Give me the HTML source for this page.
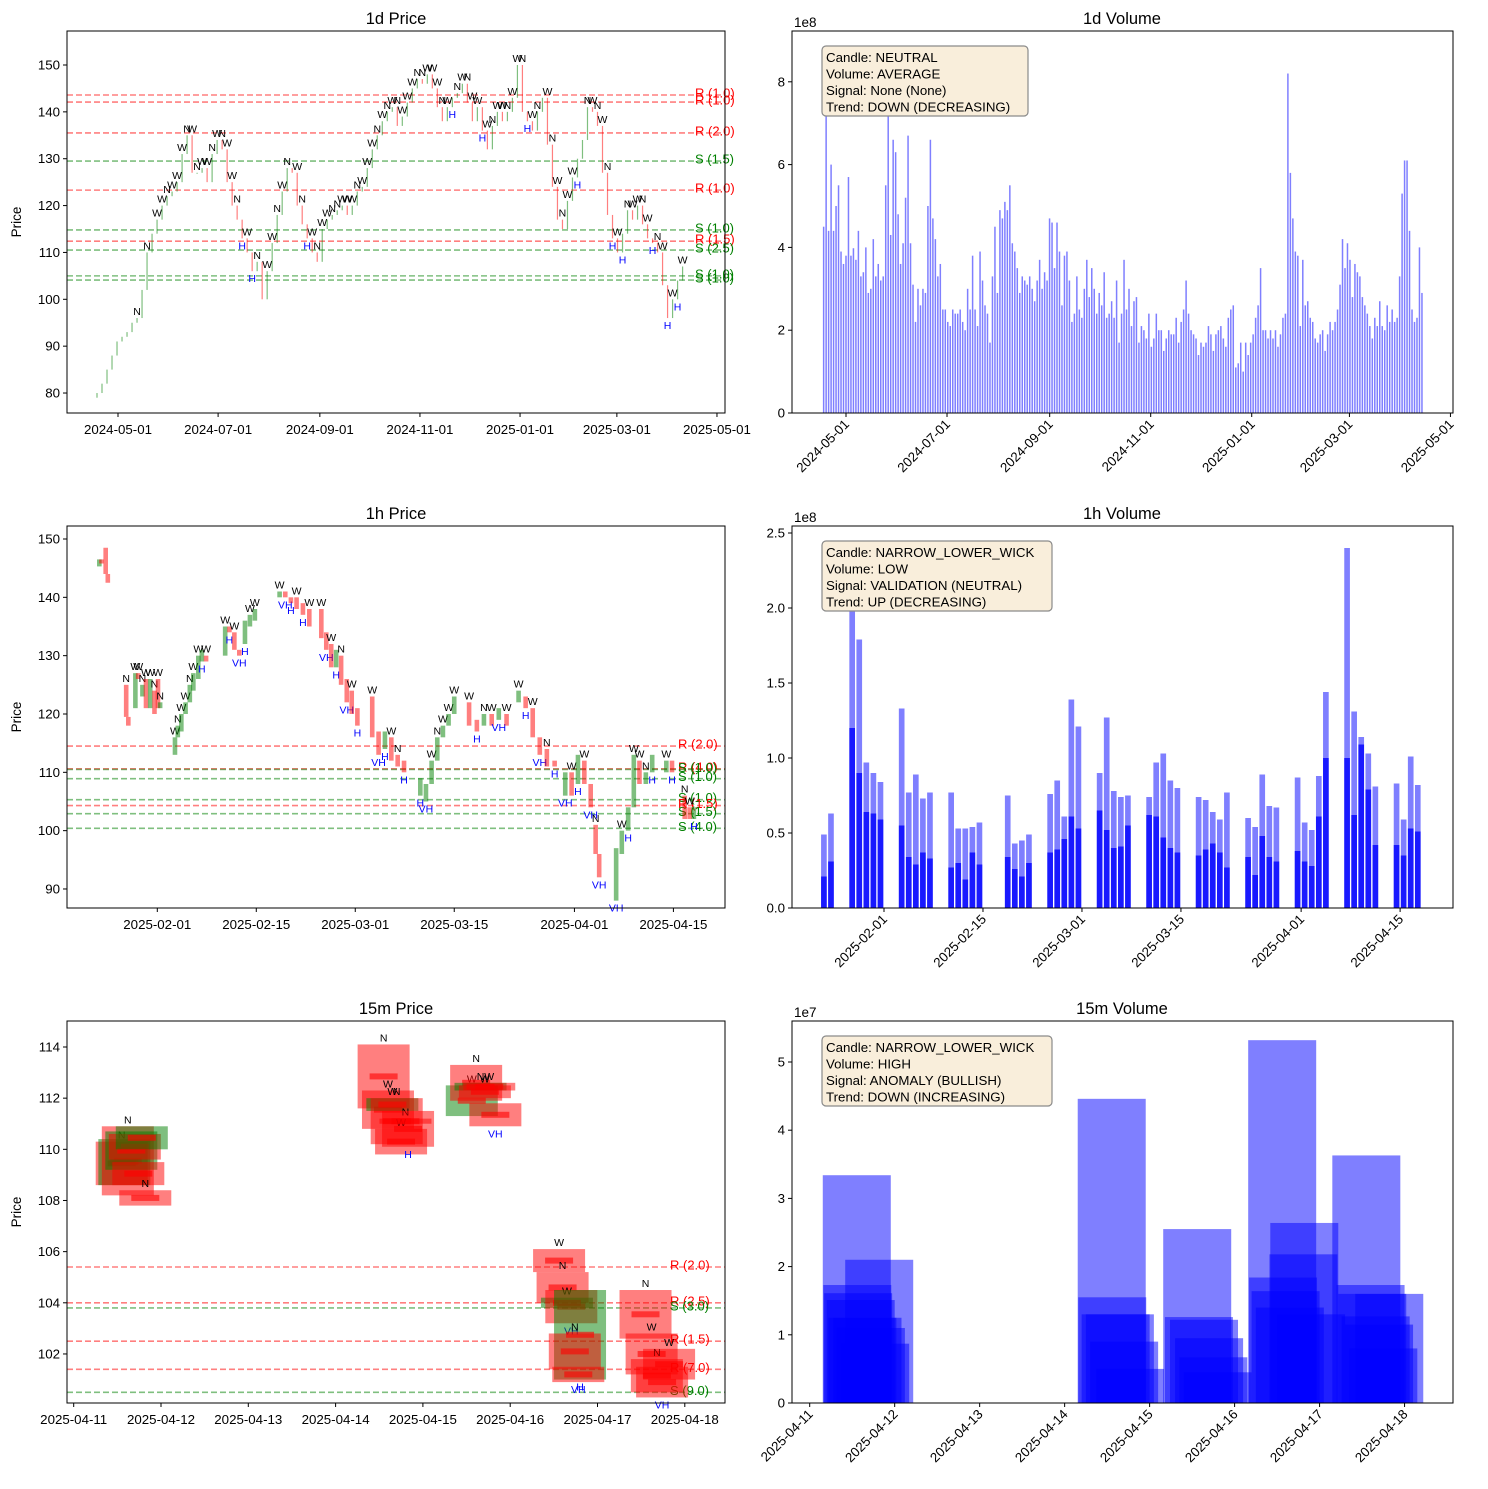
<!DOCTYPE html>
<html><head><meta charset="utf-8"><style>
html,body{margin:0;padding:0;background:#fff}
svg{display:block;font-family:"Liberation Sans",sans-serif}
</style></head><body>
<svg id="chart" xmlns="http://www.w3.org/2000/svg" width="1488" height="1489" viewBox="0 0 1488 1489">
<rect x="0" y="0" width="1488" height="1489" fill="#fff"/>
<text x="396" y="24" font-size="16.5" text-anchor="middle">1d Price</text>
<text x="1122" y="24" font-size="16.5" text-anchor="middle">1d Volume</text>
<text x="396" y="519" font-size="16.5" text-anchor="middle">1h Price</text>
<text x="1122" y="519" font-size="16.5" text-anchor="middle">1h Volume</text>
<text x="396" y="1014" font-size="16.5" text-anchor="middle">15m Price</text>
<text x="1122" y="1014" font-size="16.5" text-anchor="middle">15m Volume</text>
<text transform="translate(21,222) rotate(-90)" font-size="13.5" text-anchor="middle">Price</text>
<text transform="translate(21,717) rotate(-90)" font-size="13.5" text-anchor="middle">Price</text>
<text transform="translate(21,1212) rotate(-90)" font-size="13.5" text-anchor="middle">Price</text>
<text x="794" y="27" font-size="13.5">1e8</text>
<text x="794" y="522" font-size="13.5">1e8</text>
<text x="794" y="1017" font-size="13.5">1e7</text>
<g id="plots"></g>
<g>
<rect x="822" y="46" width="206" height="70" rx="4" fill="#f9eedb" stroke="#8a8a8a" stroke-width="1.2"/>
<text x="826" y="62" font-size="13.3">Candle: NEUTRAL</text>
<text x="826" y="78.5" font-size="13.3">Volume: AVERAGE</text>
<text x="826" y="95" font-size="13.3">Signal: None (None)</text>
<text x="826" y="111.5" font-size="13.3">Trend: DOWN (DECREASING)</text>
</g>
<g>
<rect x="822" y="541" width="230" height="70" rx="4" fill="#f9eedb" stroke="#8a8a8a" stroke-width="1.2"/>
<text x="826" y="557" font-size="13.3">Candle: NARROW_LOWER_WICK</text>
<text x="826" y="573.5" font-size="13.3">Volume: LOW</text>
<text x="826" y="590" font-size="13.3">Signal: VALIDATION (NEUTRAL)</text>
<text x="826" y="606.5" font-size="13.3">Trend: UP (DECREASING)</text>
</g>
<g>
<rect x="822" y="1036" width="230" height="70" rx="4" fill="#f9eedb" stroke="#8a8a8a" stroke-width="1.2"/>
<text x="826" y="1052" font-size="13.3">Candle: NARROW_LOWER_WICK</text>
<text x="826" y="1068.5" font-size="13.3">Volume: HIGH</text>
<text x="826" y="1085" font-size="13.3">Signal: ANOMALY (BULLISH)</text>
<text x="826" y="1101.5" font-size="13.3">Trend: DOWN (INCREASING)</text>
</g>
</svg>
<script>
// ---------- 1d price data ----------
const d1Start = -12.8;   // days from 2024-05-01
const d1Step = 3.05;
const d1Close = [80,82,85,88,91,92,93,95,96,102,110,114,117,120,122,123,125,131,135,127,127,128,125,131,134,132,125,120,117,113,110,106,108,100,106,112,118,123,128,127,120,116,113,110,108,115,117,118,119,120,118,120,123,124,128,132,135,138,140,141,137,139,142,145,147,146,148,145,141,138,141,143,144,146,142,138,141,136,132,137,140,138,140,143,150,140,138,136,140,143,133,124,117,115,121,126,130,134,141,140,137,127,118,113,110,114,119,117,120,116,113,112,110,103,96,100,104,107];
const d1Marks = "........N.N.WWNWWWNWNWWNWNWWNHWHN.WWNWN.WNHWNWWNNWWWNWWWNWNWNWWWNNWWWNWHNWNWWHWNWWNWWNHWN.WNWNWWH.NWNWNHWHNWWNWHNWHWHWNNH";
const d1LevelVals = [143.6,142.1,135.5,129.5,123.3,114.8,112.4,110.5,105.0,104.1];
const d1LevelType = ["R","R","R","S","R","S","R","S","S","S"];
const d1LevelStr = ["1.0","1.0","2.0","1.5","1.0","1.0","1.5","2.5","1.0","1.0"];
// ---------- 1d volume data (1e8) ----------
const d1VolStart = -13.5, d1VolEnd = 347.8;   // days from 2024-05-01 (first / last bar)
const d1Vol = [4.5,8.4,4.4,6.0,4.4,5.0,5.5,3.9,3.6,3.8,5.7,3.8,
3.98,3.7,4.4,3.3,3.4,4.0,2.9,3.0,4.2,3.3,3.6,
3.2,3.3,5.5,8.4,4.3,6.6,6.3,4.8,3.6,4.1,5.2,6.7,4.1,
3.1,2.2,3.0,2.6,3.0,2.9,5.0,6.6,4.7,4.2,3.3,
3.6,2.5,2.5,2.2,2.1,2.5,2.4,2.4,2.5,2.2,2.0,3.0,2.5,3.8,2.5,
2.1,3.9,3.2,2.6,2.4,1.7,3.3,4.5,2.9,4.9,4.7,5.1,4.9,5.5,4.1,3.9,
3.5,2.9,3.3,3.2,3.1,3.3,3.0,2.7,3.2,3.7,3.0,3.4,3.2,4.7,4.6,3.5,4.6,
3.9,2.6,3.8,3.9,3.2,2.2,2.4,3.3,2.5,2.3,3.0,3.7,2.8,3.5,3.0,2.4,
2.9,2.6,3.4,2.3,2.4,2.7,2.3,3.2,1.7,2.4,3.7,2.5,3.0,2.1,2.7,2.8,
1.7,2.1,2.0,1.8,2.4,1.6,1.8,2.4,2.0,2.0,1.5,1.8,2.0,1.9,1.9,2.3,1.7,
2.2,2.5,3.2,2.4,2.0,1.9,1.8,1.4,1.7,1.6,1.7,2.1,1.9,1.5,1.9,2.0,2.1,1.8,
1.6,2.3,2.5,2.6,1.1,1.2,1.7,1.0,1.7,1.4,1.7,1.9,2.3,2.6,3.5,2.0,
2.0,1.8,2.0,1.8,2.0,1.6,1.9,2.3,2.4,8.2,5.8,4.7,3.9,3.8,2.1,
3.7,2.6,2.7,2.3,2.2,1.8,1.7,1.9,2.0,1.5,1.9,2.2,2.0,2.2,2.5,3.1,4.2,3.5,
4.1,3.7,2.8,3.6,3.4,3.3,2.8,2.6,2.4,2.1,1.8,2.3,2.1,2.7,2.1,2.0,
2.6,2.2,2.5,2.2,2.3,3.3,5.3,6.1,6.1,4.4,2.5,2.2,2.3,4.0,2.9];
// ---------- 1h price data (days from 2025-02-01) ----------
const h1Time = [-8.2,-7.9,-7.3,-7.0,-4.4,-4.1,-3.1,-2.7,-2.1,-1.6,-1.0,-0.4,0.1,0.4,2.5,2.9,3.4,4.0,4.6,5.1,5.8,6.3,6.9,9.6,10.2,10.9,11.6,12.4,13.1,13.8,17.3,18.1,18.9,19.7,20.6,21.5,23.2,23.9,24.6,25.3,26.0,26.8,27.5,28.3,30.4,31.3,32.2,33.1,34.0,34.9,37.2,38.0,38.8,39.6,40.4,41.2,42.0,44.1,45.2,46.2,47.3,48.3,49.4,51.1,52.1,53.1,54.1,55.1,56.2,57.7,58.6,59.5,60.4,61.3,62.0,62.5,64.9,65.7,66.6,67.4,68.2,69.1,70.0,72,72.8,74.6,75.3,75.9];
const h1Open = [145.3,146.5,148.5,144.0,125,119.5,121,127,123,126,121,124,126,121,113,116,117,120,122,124,126,129,130,130,135,134,131,132,135,136,140,141,140,140,139,138,138,134,132,128,130,126,124,121,123,117,114,116,113,112,106,105,108,112,116,118,120,122,119,118,120,119,120,122,123,121,116,114,112,106,110,108,112,108,101,96,88,96,100,104,112,108,110,110,112,106,104,102];
const h1Close = [146.5,145.8,144.0,142.5,119.5,118,127,126,125,121,126,120,121,122,116,118,120,122,125,127,130,131,129,135,134,131,130,136,137,138,141,140,139,138,137,135,133,131,128,131,125,122,120,118,116,113,117,112,111,110,109,108,112,116,118,120,123,118,117,120,118,121,118,124,121,116,113,111,111,110,106,113,108,104,96,92,97,100,104,113,108,110,113,112,110,102,102,104];
const h1Marks = "....N.WWNWWNWNWNWWNWWHWWHWVHWWWVHWHWWVWHNVWHWVHWNHHVWNWWWWHNWVWWHWVNHVWHWVNVVWHWWNHWHNWH";
const h1LevelVals = [114.5,110.6,110.5,108.9,105.3,104.3,102.9,100.4];
const h1LevelType = ["R","R","S","S","S","R","S","S"];
const h1LevelStr = ["2.0","4.0","1.0","1.0","1.0","1.5","1.5","4.0"];
// ---------- 1h volume data (days from 2025-02-01, 1e8) ----------
const h1VolDay = [-9,-8,-5,-4,-3,-2,-1,2,3,4,5,6,9,10,11,12,13,17,18,19,20,23,24,25,26,27,30,31,32,33,34,37,38,39,40,41,44,45,46,47,48,51,52,53,54,55,58,59,60,61,62,65,66,67,68,69,72,73,74,75];
const h1VolPeak = [0.49,0.63,2.42,1.79,0.97,0.9,0.84,1.33,0.77,0.89,0.73,0.77,0.77,0.53,0.53,0.54,0.57,0.75,0.43,0.45,0.49,0.76,0.85,0.61,1.39,1.21,0.9,1.27,0.78,0.74,0.75,0.74,0.97,1.03,0.85,0.8,0.74,0.72,0.64,0.59,0.77,0.6,0.54,0.89,0.68,0.67,0.87,0.57,0.52,0.88,1.44,2.4,1.31,1.14,1.03,0.81,0.83,0.59,1.01,0.82];
const h1VolDense = [0.21,0.31,1.2,0.9,0.64,0.63,0.59,0.55,0.34,0.29,0.37,0.33,0.27,0.3,0.19,0.37,0.29,0.34,0.26,0.21,0.3,0.37,0.39,0.46,0.61,0.53,0.65,0.52,0.4,0.41,0.55,0.62,0.61,0.47,0.4,0.37,0.35,0.39,0.43,0.37,0.27,0.34,0.22,0.48,0.34,0.31,0.38,0.31,0.28,0.61,1.0,1.0,0.62,1.09,0.79,0.42,0.42,0.35,0.53,0.51];
// ---------- 15m price data (days from 2025-04-11) ----------
const m15Time = [0.55,0.58,0.62,0.66,0.70,0.74,0.78,0.82,3.55,3.60,3.65,3.70,3.75,3.80,3.83,4.56,4.61,4.66,4.71,4.76,4.83,5.56,5.60,5.65,5.70,5.80,5.74,5.78,6.55,6.62,6.68,6.74,6.82];
const m15Open = [110.3,108.6,110.9,109.2,110.6,109.5,110.0,108.4,114.1,112.3,111.5,112.0,110.8,111.2,111.5,111.3,113.3,112.3,112.5,112.6,111.8,106.1,105.2,103.8,104.5,101.0,102.8,101.5,104.5,102.8,101.8,101.5,102.2];
const m15Close = [108.6,110.4,108.2,110.7,109.6,108.6,110.9,107.8,111.6,110.8,112.0,110.2,109.8,111.0,110.1,112.5,111.9,112.6,112.0,112.3,110.9,105.2,104.0,104.2,103.2,104.5,101.4,100.9,102.6,101.2,100.5,100.3,101.0];
const m15Marks = "N.N....NNWWNWNHWNNWWVWNWVHNVNWNVW";
const m15LevelVals = [105.4,104.0,103.8,102.5,101.4,100.5];
const m15LevelType = ["R","R","S","R","R","S"];
const m15LevelStr = ["2.0","2.5","3.0","1.5","7.0","9.0"];
// ---------- 15m volume data (days from 2025-04-11, 1e7) ----------
const m15VolTime = [0.554,0.56,0.57,0.6,0.62,0.68,0.72,0.77,0.818,3.554,3.56,3.6,3.65,3.7,3.77,4.56,4.58,4.64,4.7,4.75,4.8,5.56,5.57,5.6,5.65,5.81,5.82,5.9,6.55,6.6,6.62,6.66,6.7,6.75,6.82];
const m15Vol = [3.34,1.73,1.61,1.51,1.25,1.25,1.1,0.87,2.1,4.46,1.55,1.3,1.3,0.9,0.5,2.55,1.26,1.22,0.95,0.67,0.45,5.32,1.84,1.64,1.4,2.18,2.64,1.3,3.63,1.73,1.6,1.27,1.15,0.8,1.6];

const NS = "http://www.w3.org/2000/svg";
const root = document.getElementById('plots');
function mk(tag, attrs, parent){
  const e = document.createElementNS(NS, tag);
  for (const k in attrs) e.setAttribute(k, attrs[k]);
  (parent || root).appendChild(e);
  return e;
}
const GREEN = "rgba(0,128,0,0.5)", RED = "rgba(255,0,0,0.5)", BLUE = "rgba(0,0,255,0.5)";

function frame(x0, y0, x1, y1, name){
  const f = mk('rect', {x:x0, y:y0, width:x1-x0, height:y1-y0, fill:'none', stroke:'#000', 'stroke-width':1});
  
  
}
function yTicks(vals, labels, yS, x0, name){
  vals.forEach((v, i) => {
    const y = yS(v);
    const t = mk('line', {x1:x0-4, x2:x0, y1:y, y2:y, stroke:'#000', 'stroke-width':1});
    
    
    const l = mk('text', {x:x0-7, y:y+4.5, 'font-size':13.3, 'text-anchor':'end'});
    l.textContent = labels[i];
    
    
  });
}
function xTicks(vals, labels, xS, y1, rotated, name){
  vals.forEach((v, i) => {
    const x = xS(v);
    const t = mk('line', {x1:x, x2:x, y1:y1, y2:y1+4, stroke:'#000', 'stroke-width':1});
    
    
    let l;
    if (rotated) {
      l = mk('text', {x:x+4, y:y1+12, 'font-size':13.3, 'text-anchor':'end', transform:'rotate(-45 '+(x+4)+' '+(y1+12)+')'});
    } else {
      l = mk('text', {x:x, y:y1+21, 'font-size':13.3, 'text-anchor':'middle'});
    }
    l.textContent = labels[i];
    
    
  });
}
function levels(vals, types, strs, yS, x0, x1, labelX, name){
  vals.forEach((v, i) => {
    const y = yS(v);
    const col = types[i] === 'R' ? 'rgba(255,0,0,0.5)' : 'rgba(0,128,0,0.5)';
    const ln = mk('line', {x1:x0, x2:x1, y1:y, y2:y, stroke:col, 'stroke-width':1.6, 'stroke-dasharray':'6,3'});
    
    
    const t = mk('text', {x:labelX, y:y+2.5, 'font-size':13, fill: types[i] === 'R' ? '#ff0000' : '#008000'});
    t.textContent = types[i] + ' (' + strs[i] + ')';
    
    
  });
}
function mark(ch, x, yTop, yBot, name){
  if (ch === '.') return;
  const below = (ch === 'H' || ch === 'V');
  const t = mk('text', {x:x, y: below ? yBot + 11 : yTop - 3, 'font-size':10.5, 'text-anchor':'middle', fill: below ? '#0000ff' : '#000'});
  t.textContent = ch === 'V' ? 'VH' : ch;
  
  
}

// ===== Panel 1: 1d price =====
(function(){
  const xS = d => 118 + d * 1.641;
  const yS = v => 65 + (150 - v) * 4.686;
  levels(d1LevelVals, d1LevelType, d1LevelStr, yS, 67, 725, 695, 'price-1d');
  d1Close.forEach((c, i) => {
    const o = i === 0 ? c - 1 : d1Close[i-1];
    const x = xS(d1Start + i * d1Step);
    const yT = yS(Math.max(o, c)), yB = yS(Math.min(o, c));
    const r = mk('rect', {x:x-0.6, y:yT, width:1.2, height:Math.max(1, yB-yT), fill: c >= o ? GREEN : RED});
    
    
    mark(d1Marks[i], x, yT, yB, 'price-1d');
  });
  frame(67, 31, 725, 413, 'axes-1d-price');
  yTicks([80,90,100,110,120,130,140,150], ["80","90","100","110","120","130","140","150"], yS, 67, 'y-axis-1d-price');
  xTicks([0,61,123,184,245,304,365], ["2024-05-01","2024-07-01","2024-09-01","2024-11-01","2025-01-01","2025-03-01","2025-05-01"], xS, 413, false, 'x-axis-1d-price');
})();

// ===== Panel 2: 1d volume =====
(function(){
  const xS = d => 846 + d * 1.656;
  const yS = v => 413 - v * 41.4;
  const step = (d1VolEnd - d1VolStart) / (d1Vol.length - 1);
  d1Vol.forEach((v, i) => {
    const x = xS(d1VolStart + i * step);
    const b = mk('rect', {x:x-0.75, y:yS(v), width:1.5, height:413-yS(v), fill:BLUE});
    
    
  });
  frame(792, 31, 1453, 413, 'axes-1d-volume');
  yTicks([0,2,4,6,8], ["0","2","4","6","8"], yS, 792, 'y-axis-1d-volume');
  xTicks([0,61,123,184,245,304,365], ["2024-05-01","2024-07-01","2024-09-01","2024-11-01","2025-01-01","2025-03-01","2025-05-01"], xS, 413, true, 'x-axis-1d-volume');
})();

// ===== Panel 3: 1h price =====
(function(){
  const xS = d => 157.3 + d * 7.07;
  const yS = v => 539 + (150 - v) * 5.833;
  levels(h1LevelVals, h1LevelType, h1LevelStr, yS, 67, 725, 678, 'price-1h');
  h1Time.forEach((t, i) => {
    const o = h1Open[i], c = h1Close[i];
    const x = xS(t);
    const yT = yS(Math.max(o, c)), yB = yS(Math.min(o, c));
    const r = mk('rect', {x:x-2.3, y:yT, width:4.6, height:Math.max(1.5, yB-yT), fill: c >= o ? GREEN : RED});
    
    
    mark(h1Marks[i], x, yT, yB, 'price-1h');
  });
  frame(67, 526, 725, 908, 'axes-1h-price');
  yTicks([90,100,110,120,130,140,150], ["90","100","110","120","130","140","150"], yS, 67, 'y-axis-1h-price');
  xTicks([0,14,28,42,59,73], ["2025-02-01","2025-02-15","2025-03-01","2025-03-15","2025-04-01","2025-04-15"], xS, 908, false, 'x-axis-1h-price');
})();

// ===== Panel 4: 1h volume =====
(function(){
  const xS = d => 884 + d * 7.07;
  const yS = v => 908 - v * 150;
  h1VolDay.forEach((d, i) => {
    const x = xS(d + 0.5);
    const p = mk('rect', {x:x-2.83, y:yS(h1VolPeak[i]), width:5.66, height:908-yS(h1VolPeak[i]), fill:BLUE});
    
    
    const q = mk('rect', {x:x-2.83, y:yS(h1VolDense[i]), width:5.66, height:908-yS(h1VolDense[i]), fill:'rgba(0,0,255,0.8)'});
    
    
  });
  frame(792, 526, 1453, 908, 'axes-1h-volume');
  yTicks([0,0.5,1,1.5,2,2.5], ["0.0","0.5","1.0","1.5","2.0","2.5"], yS, 792, 'y-axis-1h-volume');
  xTicks([0,14,28,42,59,73], ["2025-02-01","2025-02-15","2025-03-01","2025-03-15","2025-04-01","2025-04-15"], xS, 908, true, 'x-axis-1h-volume');
})();

// ===== Panel 5: 15m price =====
(function(){
  const xS = d => 73.7 + d * 87.3;
  const yS = v => 1047 + (114 - v) * 25.58;
  levels(m15LevelVals, m15LevelType, m15LevelStr, yS, 67, 725, 670, 'price-15m');
  m15Time.forEach((t, i) => {
    const o = m15Open[i], c = m15Close[i];
    const x = xS(t);
    const yT = yS(Math.max(o, c)), yB = yS(Math.min(o, c));
    const r = mk('rect', {x:x-26, y:yT, width:52, height:Math.max(2, yB-yT), fill: c >= o ? GREEN : RED});
    
    
    const b = mk('rect', {x:x-14, y:(yT+yB)/2-3, width:28, height:6, fill:'rgba(255,0,0,0.6)'});
    
    
    mark(m15Marks[i], x, yT, yB, 'price-15m');
  });
  frame(67, 1021, 725, 1403, 'axes-15m-price');
  yTicks([102,104,106,108,110,112,114], ["102","104","106","108","110","112","114"], yS, 67, 'y-axis-15m-price');
  xTicks([0,1,2,3,4,5,6,7], ["2025-04-11","2025-04-12","2025-04-13","2025-04-14","2025-04-15","2025-04-16","2025-04-17","2025-04-18"], xS, 1403, false, 'x-axis-15m-price');
})();

// ===== Panel 6: 15m volume =====
(function(){
  const xS = d => 809.7 + d * 84.98;
  const yS = v => 1403 - v * 68.2;
  m15VolTime.forEach((t, i) => {
    const x = xS(t);
    const b = mk('rect', {x:x-34, y:yS(m15Vol[i]), width:68, height:1403-yS(m15Vol[i]), fill:BLUE});
    
    
  });
  frame(792, 1021, 1453, 1403, 'axes-15m-volume');
  yTicks([0,1,2,3,4,5], ["0","1","2","3","4","5"], yS, 792, 'y-axis-15m-volume');
  xTicks([0,1,2,3,4,5,6,7], ["2025-04-11","2025-04-12","2025-04-13","2025-04-14","2025-04-15","2025-04-16","2025-04-17","2025-04-18"], xS, 1403, true, 'x-axis-15m-volume');
})();
</script>
</body></html>
